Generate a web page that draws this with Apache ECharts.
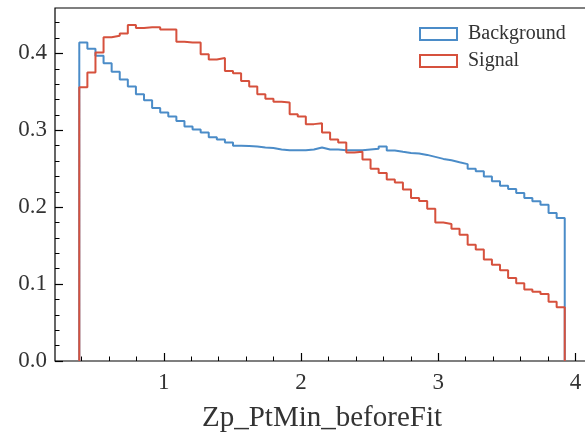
<!DOCTYPE html>
<html>
<head>
<meta charset="utf-8">
<script src="https://cdn.jsdelivr.net/npm/echarts@6/dist/echarts.min.js"></script>
<style>
html, body { margin: 0; padding: 0; background: #fff; }
#wrap { width: 585px; height: 437px; overflow: hidden; }
#chart { width: 620px; height: 437px; }
</style>
</head>
<body>
<div id="wrap"><div id="chart"></div></div>
<script>
// histogram: 60 bins from 0.384 to 3.922
var bin_start = 0.384;
var bin_width = 0.05897;

var background = [0.414, 0.406, 0.397, 0.387, 0.376, 0.366, 0.357, 0.347, 0.339, 0.329,
    0.323, 0.318, 0.312, 0.305, 0.301, 0.297, 0.291, 0.288, 0.284, 0.280,
    0.2795, 0.279, 0.2775, 0.277, 0.275, 0.274, 0.274, 0.274, 0.275, 0.2775,
    0.275, 0.275, 0.274, 0.274, 0.274, 0.275, 0.276, 0.279, 0.2736, 0.272,
    0.2706, 0.2697, 0.268, 0.2654, 0.2628, 0.261, 0.2584, 0.256, 0.250, 0.2467,
    0.240, 0.2336, 0.228, 0.2237, 0.2185, 0.212, 0.2076, 0.2033, 0.1924, 0.186];

var signal = [0.356, 0.375, 0.401, 0.421, 0.423, 0.426, 0.437, 0.433, 0.434, 0.434,
    0.431, 0.431, 0.415, 0.414, 0.414, 0.399, 0.392, 0.394, 0.377, 0.374,
    0.364, 0.357, 0.347, 0.341, 0.337, 0.336, 0.321, 0.318, 0.308, 0.309,
    0.297, 0.288, 0.284, 0.271, 0.272, 0.262, 0.250, 0.2445, 0.236, 0.232,
    0.223, 0.212, 0.208, 0.198, 0.180, 0.178, 0.172, 0.164, 0.151, 0.145,
    0.132, 0.125, 0.118, 0.108, 0.101, 0.093, 0.090, 0.087, 0.077, 0.070];

var x_ticks = [1, 2, 3, 4];
var x_minor = [0.4, 0.6, 0.8, 1.2, 1.4, 1.6, 1.8, 2.2, 2.4, 2.6, 2.8, 3.2, 3.4, 3.6, 3.8];
var y_ticks = [0, 0.1, 0.2, 0.3, 0.4];
var y_minor = [0.02, 0.04, 0.06, 0.08, 0.12, 0.14, 0.16, 0.18, 0.22, 0.24, 0.26, 0.28,
    0.32, 0.34, 0.36, 0.38, 0.42, 0.44];

function steps(vals) {
    var pts = [[bin_start, 0]];
    for (var i = 0; i < vals.length; i++) {
        pts.push([bin_start + i * bin_width, vals[i]]);
    }
    var end = bin_start + vals.length * bin_width;
    pts.push([end, vals[vals.length - 1]]);
    pts.push([end, 0]);
    return pts;
}

var font = '"Liberation Serif", "DejaVu Serif", serif';
var blue = '#4b8cc8';
var red = '#d6513d';

var xmin = 0.207, xmax = 4.099;
var ymin = 0, ymax = 0.459;

// plot frame = grid border; canvas is wider than the window so the right side is cut off like the original
var chart = echarts.init(document.getElementById('chart'));
chart.setOption({
    animation: false,
    grid: {
        left: 55, top: 8, width: 534, height: 353, outerBoundsMode: 'none',
        show: true, borderColor: '#000', borderWidth: 1.2, backgroundColor: 'rgba(0,0,0,0)'
    },
    legend: {
        left: 414, top: 19,
        orient: 'vertical',
        itemWidth: 37, itemHeight: 12, itemGap: 7,
        textStyle: { fontFamily: font, fontSize: 20, color: '#333', padding: [0, 0, 0, 6] },
        data: [
            { name: 'Background', icon: 'rect', itemStyle: { color: 'rgba(0,0,0,0)', borderColor: blue, borderWidth: 2 } },
            { name: 'Signal', icon: 'rect', itemStyle: { color: 'rgba(0,0,0,0)', borderColor: red, borderWidth: 2 } }
        ]
    },
    xAxis: [
        {
            type: 'value', min: xmin, max: xmax, position: 'bottom',
            name: 'Zp_PtMin_beforeFit', nameLocation: 'middle', nameGap: 43,
            nameTextStyle: { fontFamily: font, fontSize: 29, color: '#333' },
            axisLine: { show: false },
            axisTick: { show: true, inside: true, length: 8, customValues: x_ticks, lineStyle: { color: '#000', width: 1.2 } },
            axisLabel: { customValues: x_ticks, margin: 10, fontFamily: font, fontSize: 23, color: '#333' },
            splitLine: { show: false }
        },
        {
            type: 'value', min: xmin, max: xmax, position: 'bottom',
            axisLine: { show: false },
            axisTick: { show: true, inside: true, length: 4.5, customValues: x_minor, lineStyle: { color: '#000', width: 1 } },
            axisLabel: { show: false, customValues: x_minor },
            splitLine: { show: false }
        }
    ],
    yAxis: [
        {
            type: 'value', min: ymin, max: ymax, position: 'left',
            axisLine: { show: false },
            axisTick: { show: true, inside: true, length: 8, customValues: y_ticks, lineStyle: { color: '#000', width: 1.2 } },
            axisLabel: {
                customValues: y_ticks, margin: 8, fontFamily: font, fontSize: 23, color: '#333',
                formatter: function (v) { return v.toFixed(1); }
            },
            splitLine: { show: false }
        },
        {
            type: 'value', min: ymin, max: ymax, position: 'left',
            axisLine: { show: false },
            axisTick: { show: true, inside: true, length: 4.5, customValues: y_minor, lineStyle: { color: '#000', width: 1 } },
            axisLabel: { show: false, customValues: y_minor },
            splitLine: { show: false }
        }
    ],
    series: [
        {
            name: 'Background', type: 'line', step: 'end',
            data: steps(background), showSymbol: false,
            lineStyle: { color: blue, width: 2 }, itemStyle: { color: blue }
        },
        {
            name: 'Signal', type: 'line', step: 'end',
            data: steps(signal), showSymbol: false,
            lineStyle: { color: red, width: 2 }, itemStyle: { color: red }
        }
    ]
});
</script>
</body>
</html>
